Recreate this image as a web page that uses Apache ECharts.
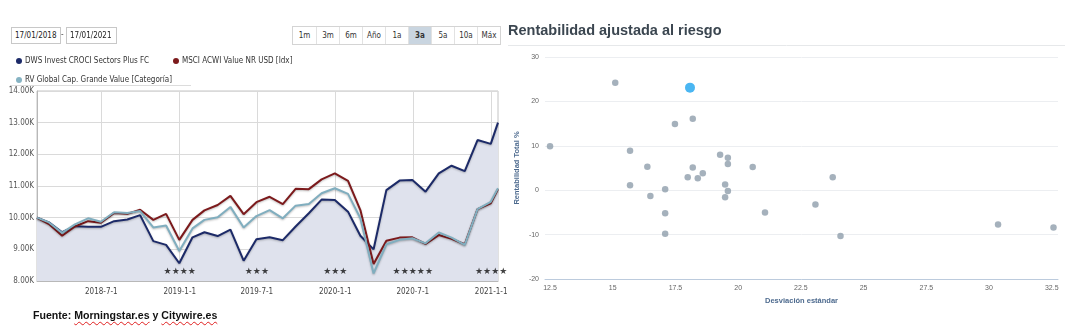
<!DOCTYPE html>
<html>
<head>
<meta charset="utf-8">
<script src="https://cdn.jsdelivr.net/npm/echarts@6/dist/echarts.min.js"></script>
<style>
  body { margin: 0; background: #fff; width: 1073px; height: 331px; overflow: hidden; position: relative;
         font-family: 'DejaVu Sans Condensed', 'Liberation Sans', sans-serif; }
  #chart { position: absolute; left: 0; top: 0; width: 1073px; height: 331px; }
  .datebox { position: absolute; top: 27px; height: 17px; border: 1px solid #c8c8c8; box-sizing: border-box;
             font-size: 8px; line-height: 15px; padding: 0 3px; color: #222; background: #fff; }
  .dash { position: absolute; left: 61px; top: 30px; font-size: 8px; color: #444; }
  .ranges { position: absolute; left: 292px; top: 26px; height: 19px; display: flex; border: 1px solid #d4d4d4;
            box-sizing: border-box; background: #fff; z-index: 2; }
  .ranges span { width: 23px; text-align: center; font-size: 8px; line-height: 17px; color: #333;
                 border-left: 1px solid #e2e2e2; box-sizing: border-box; }
  .ranges span:first-child { border-left: none; }
  .ranges span.on { background: #c9d5e0; font-weight: bold; }
  .source { position: absolute; left: 33px; top: 309px; font-family: 'Liberation Sans', sans-serif;
            font-weight: bold; font-size: 10.6px; color: #111; }
  .source u { text-decoration: underline wavy #e02020; text-decoration-thickness: 1px; text-underline-offset: 2px; }
</style>
</head>
<body>
<div id="chart"></div>
<div class="datebox" style="left:11px;width:50px">17/01/2018</div>
<div class="dash">-</div>
<div class="datebox" style="left:66px;width:51px">17/01/2021</div>
<div class="ranges">
  <span>1m</span><span>3m</span><span>6m</span><span>Año</span><span>1a</span><span class="on">3a</span><span>5a</span><span>10a</span><span>Máx</span>
</div>
<div class="source">Fuente: <u>Morningstar.es</u> y <u>Citywire.es</u></div>
<script>
// Growth of 10.000 — month-end observations
const dates = ['2018-01-31','2018-02-28','2018-03-31','2018-04-30','2018-05-31','2018-06-30','2018-07-31',
  '2018-08-31','2018-09-30','2018-10-31','2018-11-30','2018-12-31','2019-01-31','2019-02-28','2019-03-31',
  '2019-04-30','2019-05-31','2019-06-30','2019-07-31','2019-08-31','2019-09-30','2019-10-31','2019-11-30',
  '2019-12-31','2020-01-31','2020-02-29','2020-03-31','2020-04-30','2020-05-31','2020-06-30','2020-07-31',
  '2020-08-31','2020-09-30','2020-10-31','2020-11-30','2020-12-31','2021-01-17'];

const fundName = 'DWS Invest CROCI Sectors Plus FC';
const indexName = 'MSCI ACWI Value NR USD [Idx]';
const categoryName = 'RV Global Cap. Grande Value [Categoría]';

const fundValues = [10000,9850,9540,9730,9710,9710,9890,9940,10080,9260,9140,8560,9380,9540,9420,9620,8640,
  9320,9380,9290,9720,10140,10570,10560,10190,9430,9000,10870,11170,11190,10820,11400,11640,11470,12450,12330,13000];
const indexValues = [10000,9800,9430,9720,9890,9840,10150,10120,10250,9930,10120,9300,9930,10230,10400,10690,10110,
  10490,10660,10430,10910,10900,11210,11400,11160,10240,8540,9270,9370,9380,9170,9450,9330,9160,10270,10450,10900];
const categoryValues = [10000,9850,9520,9790,9980,9870,10170,10150,10210,9690,9750,8950,9660,9930,10010,10340,9690,
  10050,10240,9980,10380,10430,10770,10930,10750,9980,8240,9160,9300,9350,9190,9530,9370,9140,10270,10500,10930];

// Morningstar rating at each half-year
const ratingDates = ['2019-01-01','2019-07-01','2020-01-01','2020-07-01','2021-01-01'];
const ratingStars = [4, 3, 3, 5, 4];
const ratingLevel = 8300;

const xTickDates = ['2018-07-01','2019-01-01','2019-07-01','2020-01-01','2020-07-01','2021-01-01'];

// Risk / return of the peer group (std. deviation, total return %)
const peerRisk   = [12.5, 15.1, 15.69, 15.69, 16.38, 16.5, 17.09, 17.09, 17.09, 17.48, 18.19, 18.19, 17.99, 18.39,
  18.59, 19.28, 19.59, 19.59, 19.48, 19.59, 19.48, 20.58, 21.07, 23.08, 23.77, 24.08, 30.36, 32.57];
const peerReturn = [9.9, 24.2, 8.9, 1.1, 5.3, -1.3, 0.2, -5.2, -9.8, 14.9, 16.1, 5.1, 2.9, 2.7,
  3.8, 8.0, 7.3, 5.9, 1.3, -0.2, -1.6, 5.2, -5.0, -3.2, 2.9, -10.3, -7.7, -8.4];
const fundRisk = 18.08;
const fundReturn = 23.1;
const riskTicks = [12.5, 15, 17.5, 20, 22.5, 25, 27.5, 30, 32.5];

const leftFont = "'DejaVu Sans Condensed', 'Liberation Sans', sans-serif";
const rightFont = "'Liberation Sans', sans-serif";

// dates are placed on a numeric (timestamp) axis so the half-year ticks can be listed explicitly
const ts = s => { const [y, m, d] = s.split('-').map(Number); return Date.UTC(y, m - 1, d); };
const fmtDate = v => { const d = new Date(v); return d.getUTCFullYear() + '-' + (d.getUTCMonth() + 1) + '-' + d.getUTCDate(); };

const lineShadow = { shadowColor: 'rgba(0,0,0,0.25)', shadowBlur: 2, shadowOffsetY: 1 };
const legendText = { fontSize: 8, color: '#333', fontFamily: leftFont, padding: [0, 0, 0, -2] };

const chart = echarts.init(document.getElementById('chart'), null, { renderer: 'canvas' });
chart.setOption({
  animation: false,
  textStyle: { fontFamily: leftFont },
  title: {
    text: 'Rentabilidad ajustada al riesgo', left: 503, top: 18,
    textStyle: { fontFamily: rightFont, fontSize: 14.5, fontWeight: 'bold', color: '#3b4650' }
  },
  legend: [
    { left: 11, top: 52, icon: 'circle', itemWidth: 6, itemHeight: 6, selectedMode: false,
      data: [fundName], textStyle: legendText },
    { left: 168, top: 52, icon: 'circle', itemWidth: 6, itemHeight: 6, selectedMode: false,
      data: [indexName], textStyle: legendText },
    { left: 11, top: 71, icon: 'circle', itemWidth: 6, itemHeight: 6, selectedMode: false,
      data: [categoryName], textStyle: legendText }
  ],
  graphic: [
    { type: 'line', shape: { x1: 10, y1: 85.5, x2: 191, y2: 85.5 }, style: { stroke: '#dcdcdc', lineWidth: 1 } },
    { type: 'line', shape: { x1: 508, y1: 45.5, x2: 1065, y2: 45.5 }, style: { stroke: '#e6e8ea', lineWidth: 1 } }
  ],
  grid: [
    { left: 37, top: 91, right: 575, bottom: 50, show: true, borderColor: '#c4c4c4', borderWidth: 1 },
    { left: 545, top: 57, right: 15, bottom: 52 }
  ],
  xAxis: [
    {
      type: 'value', gridIndex: 0, min: ts(dates[0]), max: ts(dates[dates.length - 1]),
      axisLine: { lineStyle: { color: '#b8b8b8' } },
      axisTick: { show: false, customValues: xTickDates.map(ts) },
      axisLabel: { customValues: xTickDates.map(ts), formatter: fmtDate, fontSize: 8, color: '#444', margin: 7 },
      splitLine: { show: true, lineStyle: { color: '#dadada' } }
    },
    {
      type: 'value', gridIndex: 1, min: 12.3, max: 32.75,
      name: 'Desviación estándar', nameLocation: 'middle', nameGap: 15,
      nameTextStyle: { fontFamily: rightFont, fontSize: 7.5, fontWeight: 'bold', color: '#4d6a8e' },
      axisLine: { onZero: false, lineStyle: { color: '#bccbdd', width: 1 } },
      axisTick: { show: false, customValues: riskTicks },
      axisLabel: { customValues: riskTicks, fontFamily: rightFont, fontSize: 7, color: '#666', margin: 6 },
      splitLine: { show: false }
    }
  ],
  yAxis: [
    {
      type: 'value', gridIndex: 0, min: 8000, max: 14000, interval: 1000,
      axisLine: { show: true, lineStyle: { color: '#b8b8b8' } },
      axisTick: { show: false },
      axisLabel: { formatter: v => (v / 1000).toFixed(2) + 'K', fontSize: 8, color: '#555', margin: 3 },
      splitLine: { lineStyle: { color: '#dadada' } }
    },
    {
      type: 'value', gridIndex: 1, min: -20, max: 30, interval: 10,
      name: 'Rentabilidad Total %', nameLocation: 'middle', nameGap: 24,
      nameTextStyle: { fontFamily: rightFont, fontSize: 7.5, fontWeight: 'bold', color: '#4d6a8e' },
      axisLine: { show: false }, axisTick: { show: false },
      axisLabel: { fontFamily: rightFont, fontSize: 7, color: '#666', margin: 6 },
      splitLine: { lineStyle: { color: '#eceef1' } }
    }
  ],
  series: [
    {
      name: fundName, type: 'line', xAxisIndex: 0, yAxisIndex: 0, symbol: 'none',
      data: dates.map((d, i) => [ts(d), fundValues[i]]),
      color: '#1c2a68',
      lineStyle: Object.assign({ width: 2, color: '#1c2a68' }, lineShadow),
      areaStyle: { color: '#dfe2ed', opacity: 1, origin: 'start' },
      z: 2
    },
    {
      name: indexName, type: 'line', xAxisIndex: 0, yAxisIndex: 0, symbol: 'none',
      data: dates.map((d, i) => [ts(d), indexValues[i]]),
      color: '#7c1a1c',
      lineStyle: Object.assign({ width: 2, color: '#7c1a1c' }, lineShadow),
      z: 3
    },
    {
      name: categoryName, type: 'line', xAxisIndex: 0, yAxisIndex: 0, symbol: 'none',
      data: dates.map((d, i) => [ts(d), categoryValues[i]]),
      color: '#86b3c3',
      lineStyle: Object.assign({ width: 2, color: '#80aebf' }, lineShadow),
      z: 4
    },
    {
      type: 'scatter', xAxisIndex: 0, yAxisIndex: 0, symbolSize: 0, silent: true,
      data: ratingDates.map((d, i) => [ts(d), ratingLevel, ratingStars[i]]),
      label: { show: true, position: 'inside', formatter: p => '★'.repeat(p.value[2]),
               fontFamily: "'DejaVu Sans', sans-serif", fontSize: 9, color: '#111' },
      z: 5
    },
    {
      type: 'scatter', xAxisIndex: 1, yAxisIndex: 1, symbolSize: 6.5,
      data: peerRisk.map((r, i) => [r, peerReturn[i]]),
      itemStyle: { color: '#8e9dab' }
    },
    {
      type: 'scatter', xAxisIndex: 1, yAxisIndex: 1, symbolSize: 10,
      data: [[fundRisk, fundReturn]],
      itemStyle: { color: '#1da4ef' }, z: 3
    }
  ]
});
</script>
</body>
</html>
